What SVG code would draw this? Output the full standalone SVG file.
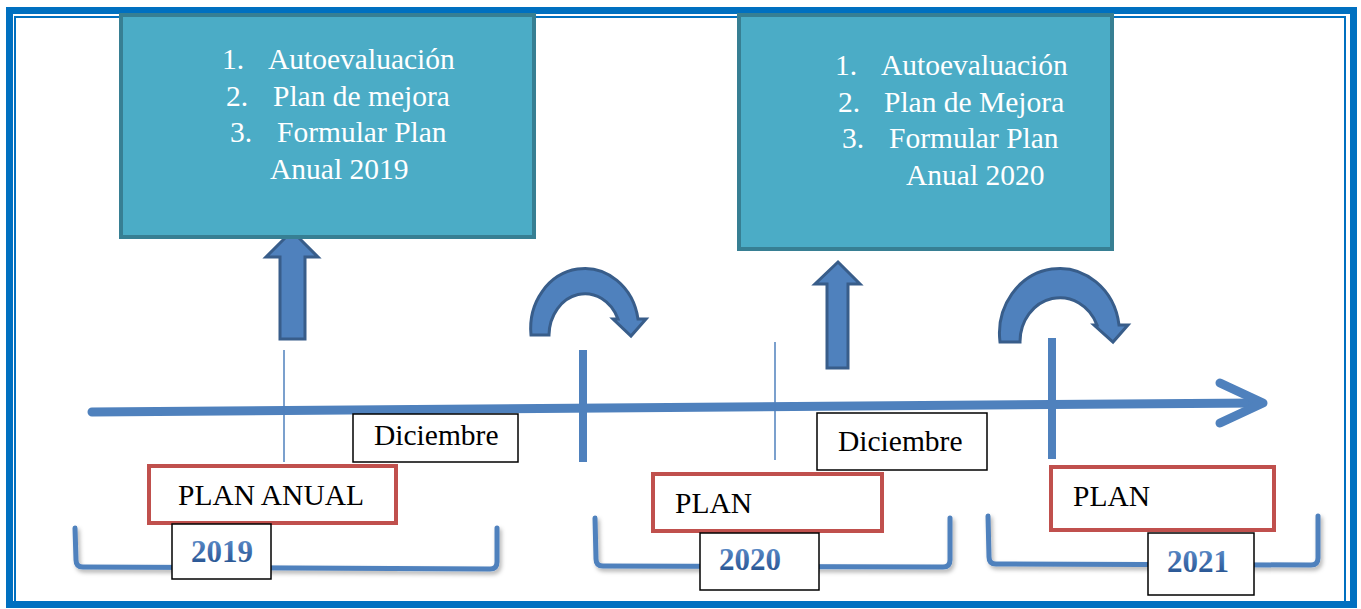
<svg xmlns="http://www.w3.org/2000/svg" width="1361" height="609" viewBox="0 0 1361 609">
<style>
.frame{fill:none;stroke:#0070C0}
.teal{fill:#4BACC6;stroke:#377F93;stroke-width:4}
.wt{font-family:"Liberation Serif","Times New Roman",serif;font-size:29.5px;fill:#FFFFFF}
.bt{font-family:"Liberation Serif","Times New Roman",serif;font-size:29.5px;fill:#000000}
.wbox{fill:#FFFFFF;stroke:#000000;stroke-width:1.5}
.rbox{fill:#FFFFFF;stroke:#C0504D;stroke-width:4}
.arr{fill:#4F81BD;stroke:#385D8A;stroke-width:3;stroke-linejoin:miter}
.bracket{fill:none;stroke:#4F81BD;stroke-width:5;stroke-linejoin:round;stroke-linecap:round}
.tick{stroke:#4F81BD}
.year{font-family:"Liberation Serif","Times New Roman",serif;font-size:31px;font-weight:bold;fill:url(#yg);text-anchor:middle}
</style>
<defs>
<linearGradient id="yg" x1="0" y1="0" x2="0" y2="1">
<stop offset="0" stop-color="#6A98D2"/>
<stop offset="0.5" stop-color="#3F6EAE"/>
<stop offset="1" stop-color="#1F4A85"/>
</linearGradient>
<filter id="sh" x="-5%" y="-20%" width="110%" height="150%">
<feDropShadow dx="2" dy="3" stdDeviation="2" flood-color="#000000" flood-opacity="0.3"/>
</filter>
</defs>
<rect width="1361" height="609" fill="#FFFFFF"/>
<g id="border">
<rect class="frame" x="9.5" y="10.5" width="1344" height="594" stroke-width="7"/>
<rect class="frame" x="15" y="17" width="1330" height="585" stroke-width="2"/>
</g>
<g id="connectors">
<line x1="92" y1="412" x2="1258" y2="403" stroke="#4F81BD" stroke-width="9" stroke-linecap="round"/>
<polyline points="1220,383 1263,403 1220,423" fill="none" stroke="#4F81BD" stroke-width="9" stroke-linecap="round" stroke-linejoin="round"/>
<line class="tick" x1="284" y1="350" x2="284" y2="462" stroke-width="1.5"/>
<line class="tick" x1="583" y1="350" x2="583" y2="462" stroke-width="8"/>
<line class="tick" x1="775" y1="342" x2="775" y2="460" stroke-width="1.5"/>
<line class="tick" x1="1052" y1="338" x2="1052" y2="459" stroke-width="8"/>
<polygon class="arr" points="292,231 318,257 305,257 305,339 280,339 280,257 266,257"/>
<polygon class="arr" points="838,262 860,284 848,284 848,368 827,368 827,284 815,284"/>
<path class="arr" d="M531,335 A54,60 0 0 1 638,319 L646,319 L631,336 L613,319 L618,319 A36,42 0 0 0 549,335 Z"/>
<path class="arr" d="M1000,342 A60,65 0 0 1 1119,325 L1128,325 L1113,342 L1094,325 L1097,325 A40,44 0 0 0 1020,342 Z"/>
</g>
<g id="box2019">
<rect class="teal" x="121" y="15" width="413" height="222"/>
<text class="wt" x="222" y="69">1.</text><text class="wt" x="268" y="69">Autoevaluación</text>
<text class="wt" x="226" y="106">2.</text><text class="wt" x="273" y="106">Plan de mejora</text>
<text class="wt" x="230" y="142">3.</text><text class="wt" x="277" y="142">Formular Plan</text>
<text class="wt" x="270" y="179">Anual 2019</text>
</g>
<g id="box2020">
<rect class="teal" x="739" y="15" width="373" height="234"/>
<text class="wt" x="835" y="75">1.</text><text class="wt" x="881" y="75">Autoevaluación</text>
<text class="wt" x="838" y="112">2.</text><text class="wt" x="884" y="112">Plan de Mejora</text>
<text class="wt" x="842" y="148">3.</text><text class="wt" x="889" y="148">Formular Plan</text>
<text class="wt" x="906" y="185">Anual 2020</text>
</g>
<g id="dic1">
<rect class="wbox" x="353" y="414" width="165" height="48"/>
<text class="bt" x="374" y="445">Diciembre</text>
</g>
<g id="dic2">
<rect class="wbox" x="817" y="413" width="170" height="57"/>
<text class="bt" x="838" y="451">Diciembre</text>
</g>
<g id="bracket2019"><path class="bracket" filter="url(#sh)" d="M75,528 L76,560 Q76,567 83,567 L490,569 Q497,569 497,562 L497,528"/></g>
<g id="bracket2020"><path class="bracket" filter="url(#sh)" d="M595,518 L596,559 Q596,566 603,566 L943,567 Q950,567 950,560 L950,518"/></g>
<g id="bracket2021"><path class="bracket" filter="url(#sh)" d="M988,516 L989,557 Q989,564 996,564 L1311,565 Q1318,565 1318,558 L1318,516"/></g>
<g id="plan2019">
<rect class="rbox" x="149" y="466" width="247" height="57"/>
<text class="bt" x="178" y="505">PLAN ANUAL</text>
</g>
<g id="plan2020">
<rect class="rbox" x="653" y="474" width="229" height="57"/>
<text class="bt" x="675" y="513">PLAN</text>
</g>
<g id="plan2021">
<rect class="rbox" x="1051" y="467" width="223" height="63"/>
<text class="bt" x="1073" y="506">PLAN</text>
</g>
<g id="y2019">
<rect class="wbox" x="172" y="524" width="99" height="55"/>
<text class="year" x="222" y="562">2019</text>
</g>
<g id="y2020">
<rect class="wbox" x="700" y="533" width="119" height="57"/>
<text class="year" x="750" y="570">2020</text>
</g>
<g id="y2021">
<rect class="wbox" x="1148" y="533" width="106" height="62"/>
<text class="year" x="1198" y="572">2021</text>
</g>
</svg>
